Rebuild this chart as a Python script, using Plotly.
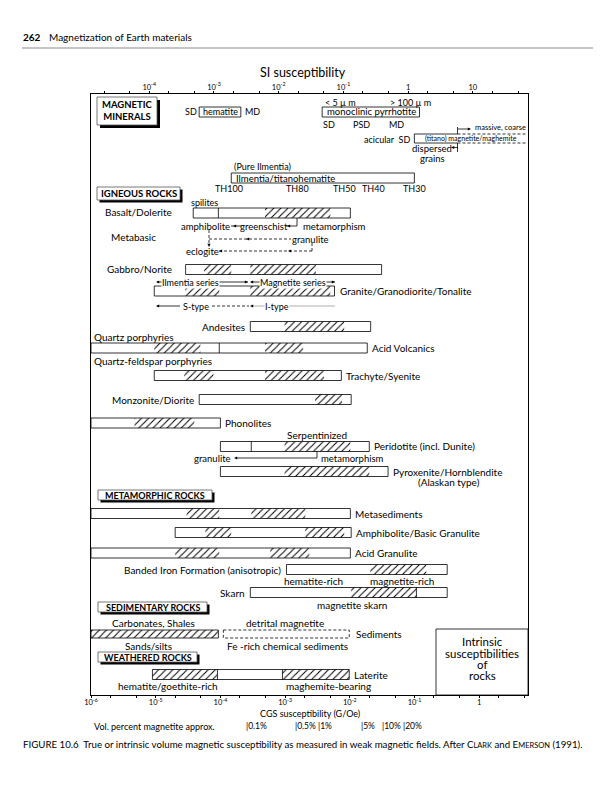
import numpy as np
import plotly.graph_objects as go

# ---------------- data (susceptibility values) ----------------
LOG4PI = float(np.log10(4 * np.pi))          # SI = 4*pi * CGS

si_tick_vals = [1e-4, 1e-3, 1e-2, 1e-1, 1, 10]
si_tick_text = ["10<sup>-4</sup>", "10<sup>-3</sup>", "10<sup>-2</sup>", "10<sup>-1</sup>", "1", "10"]
cgs_tick_vals = [1e-6, 1e-5, 1e-4, 1e-3, 1e-2, 1e-1, 1]
cgs_tick_text = ["10<sup>-6</sup>", "10<sup>-5</sup>", "10<sup>-4</sup>", "10<sup>-3</sup>",
                 "10<sup>-2</sup>", "10<sup>-1</sup>", "1"]
cgs_log_range = [-6.0, 0.754]

# Magnetic minerals (SI units)
hematite_si = [5.9e-4, 2.6e-3]
pyrrhotite_si = [4.7e-2, 1.5]
magnetite_solid_si = [1.25, 5.8]
magnetite_dashed_si = [5.8, 70.0]
ilmenite_si = [1.85e-3, 1.25]
th_labels = ["TH100", "TH80", "TH50", "TH40", "TH30"]
th_si = [1.73e-3, 1.95e-2, 0.103, 0.29, 1.25]

# Rocks (CGS units)
rock_names = ["Basalt/Dolerite", "Gabbro/Norite", "Granite/Granodiorite/Tonalite", "Andesites",
              "Acid Volcanics", "Trachyte/Syenite", "Monzonite/Diorite", "Phonolites",
              "Peridotite (incl. Dunite)", "Pyroxenite/Hornblendite", "Metasediments",
              "Amphibolite/Basic Granulite", "Acid Granulite", "Banded Iron Formation (anisotropic)",
              "Skarn", "Laterite"]
rock_low = [3.8e-5, 2.9e-5, 9.5e-6, 2.9e-4, 1e-6, 9.5e-6, 4.7e-5, 1e-6,
            1e-4, 1e-4, 1e-6, 2e-5, 1e-6, 1.05e-3, 2.9e-4, 8.9e-6]
rock_high = [1.02e-2, 3.1e-2, 5.8e-3, 2.1e-2, 1.86e-2, 7.4e-3, 1.05e-2, 1e-4,
             2e-2, 3.9e-2, 1.02e-2, 1.05e-2, 1.02e-2, 0.32, 0.32, 9.8e-3]
rock_hatch = [
    [(4.9e-4, 5.0e-3)],
    [(5.6e-5, 1.47e-4), (2.9e-4, 3.0e-3)],
    [(2.86e-5, 9.6e-5), (2.9e-4, 5.0e-3)],
    [(9.8e-4, 8.2e-3)],
    [(9.5e-6, 4.9e-5), (4.9e-4, 1.9e-3)],
    [(2.77e-5, 7.8e-5), (4.9e-4, 4.0e-3)],
    [(2.9e-3, 7.6e-3)],
    [(4.7e-6, 3.95e-5)],
    [(9.8e-4, 1.02e-2)],
    [(9.8e-4, 2.0e-2)],
    [(3.0e-5, 9.6e-5), (3.0e-4, 2.05e-3)],
    [(5.85e-5, 1.47e-4), (2.05e-3, 8.2e-3)],
    [(2.0e-5, 9.6e-5), (5.9e-4, 2.37e-3)],
    [(2.07e-2, 0.152)],
    [(1.05e-2, 0.107)],
    [(8.9e-6, 9.0e-5), (9.1e-4, 9.8e-3)],
]
rock_dividers = [[9.3e-5], [], [], [], [9.6e-5], [], [], [], [3.0e-4], [], [], [], [], [], [0.107],
                 [9.0e-5, 9.1e-4]]

sediment_hatch = [1e-6, 9.3e-5]
sediment_dashed = [1.11e-4, 9.8e-3]

percent_labels = ["0.1%", "0.5%", "1%", "5%", "10%", "20%"]
percent_cgs = [2.5e-4, 1.4e-3, 3.2e-3, 1.5e-2, 3.2e-2, 6.7e-2]

# ---------------- layout positions (page pixels) ----------------
W, H = 615, 800
OFF = 8                     # page offset of the figure inside the html body
PL, PR, PT, PB = 91, 528, 94, 695
rock_row_y = [213, 269.5, 291, 326.5, 348, 375.5, 399.5, 423, 446.5, 471.5,
              513.5, 532.5, 553, 569.5, 592.5, 674.5]
rock_label_side = ["none", "none", "right", "left", "right", "right", "left", "right",
                   "right", "right", "right", "right", "right", "left", "left", "right"]
BAR_H = 10
FONT = "Lato"
LW = 0.8
HATCH = dict(shape="/", fgcolor="black", bgcolor="white", size=5, solidity=0.2, fillmode="replace")


def xp(px):
    return (px - PL) / (PR - PL)


def yp(py):
    return (PB - py) / (PB - PT)


fig = go.Figure()


def rect_xy(x0, x1, y0, y1):
    return [x0, x1, x1, x0, x0], [y0, y0, y1, y1, y0]


def add_hatch(x0, x1, yc, h, xaxis="x"):
    xs, ys = rect_xy(x0, x1, yc - h / 2, yc + h / 2)
    fig.add_trace(go.Scatter(x=xs, y=ys, mode="lines", fill="toself", fillcolor="white",
                             fillpattern=HATCH, line=dict(width=0, color="rgba(0,0,0,0)"),
                             xaxis=xaxis, yaxis="y", hoverinfo="skip", showlegend=False))


def add_outline(x0, x1, yc, h, dash="solid", xaxis="x"):
    xs, ys = rect_xy(x0, x1, yc - h / 2, yc + h / 2)
    fig.add_trace(go.Scatter(x=xs, y=ys, mode="lines", line=dict(color="black", width=LW, dash=dash),
                             xaxis=xaxis, yaxis="y", hoverinfo="skip", showlegend=False))


def add_vline_data(x, y0, y1, xaxis="x", dash="solid"):
    fig.add_trace(go.Scatter(x=[x, x], y=[y0, y1], mode="lines", line=dict(color="black", width=LW, dash=dash),
                             xaxis=xaxis, yaxis="y", hoverinfo="skip", showlegend=False))


def add_hline_data(x0, x1, y, xaxis="x", dash="solid"):
    fig.add_trace(go.Scatter(x=[x0, x1], y=[y, y], mode="lines", line=dict(color="black", width=LW, dash=dash),
                             xaxis=xaxis, yaxis="y", hoverinfo="skip", showlegend=False))


annotations = []
shapes = []


def txt(text, x, y, size=10, xanchor="center", bold=False, bg=None, color="black", family=FONT):
    if bold:
        text = "<b>" + text + "</b>"
    a = dict(text=text, x=xp(x), y=yp(y), xref="paper", yref="paper", showarrow=False,
             xanchor=xanchor, yanchor="middle", font=dict(size=size, family=family, color=color),
             borderpad=0)
    if bg:
        a["bgcolor"] = bg
    annotations.append(a)


def txt_data(text, xval, y, size=10, xanchor="center", xref="x", xshift=0):
    annotations.append(dict(text=text, x=float(np.log10(xval)), y=yp(y), xref=xref, yref="paper",
                            showarrow=False, xanchor=xanchor, yanchor="middle", xshift=xshift,
                            font=dict(size=size, family=FONT, color="black"), borderpad=0))


def seg(x0, y0, x1, y1, dash="solid", color="black", w=LW):
    shapes.append(dict(type="line", xref="paper", yref="paper", x0=xp(x0), y0=yp(y0), x1=xp(x1), y1=yp(y1),
                       line=dict(color=color, width=w, dash=dash)))


def tri(x, y, d, s=2.2, color="black"):
    if d == "left":
        pts = [(x, y), (x + 2 * s, y - s), (x + 2 * s, y + s)]
    elif d == "right":
        pts = [(x, y), (x - 2 * s, y - s), (x - 2 * s, y + s)]
    else:  # down
        pts = [(x, y), (x - s, y - 2 * s), (x + s, y - 2 * s)]
    path = "M " + " L ".join(f"{xp(a):.5f},{yp(b):.5f}" for a, b in pts) + " Z"
    shapes.append(dict(type="path", xref="paper", yref="paper", path=path, fillcolor=color,
                       line=dict(width=0)))


def header_box(text, x0, x1, y0, y1, size=9.5, sh=2.5):
    shapes.append(dict(type="rect", xref="paper", yref="paper", x0=xp(x0 + sh), x1=xp(x1 + sh),
                       y0=yp(y1 + sh), y1=yp(y0 + sh), fillcolor="black", line=dict(width=0)))
    shapes.append(dict(type="rect", xref="paper", yref="paper", x0=xp(x0), x1=xp(x1),
                       y0=yp(y1), y1=yp(y0), fillcolor="white", line=dict(color="#555", width=0.8)))
    txt(text, (x0 + x1) / 2, (y0 + y1) / 2, size=size, bold=True)


# ---------------- magnetic minerals (SI axis) ----------------
add_outline(hematite_si[0], hematite_si[1], 112, 10, xaxis="x2")
add_outline(pyrrhotite_si[0], pyrrhotite_si[1], 112, 10, xaxis="x2")
add_outline(ilmenite_si[0], ilmenite_si[1], 178, 10, xaxis="x2")
# magnetite: solid then dashed
add_vline_data(magnetite_solid_si[0], 134, 143, xaxis="x2")
for yy in (134, 143):
    add_hline_data(magnetite_solid_si[0], magnetite_solid_si[1], yy, xaxis="x2")
    add_hline_data(magnetite_dashed_si[0], magnetite_dashed_si[1], yy, xaxis="x2", dash="3px,2px")
add_vline_data(magnetite_solid_si[1], 127, 134, xaxis="x2")
add_vline_data(magnetite_solid_si[1], 143, 152, xaxis="x2")
for lab, v in zip(th_labels, th_si):
    txt_data(lab, v, 188, size=9, xref="x2")

# ---------------- rocks (CGS axis) ----------------
for i, name in enumerate(rock_names):
    yc = rock_row_y[i]
    for (h0, h1) in rock_hatch[i]:
        add_hatch(h0, h1, yc, BAR_H)
    add_outline(rock_low[i], rock_high[i], yc, BAR_H)
    for d in rock_dividers[i]:
        add_vline_data(d, yc - BAR_H / 2, yc + BAR_H / 2)
    if rock_label_side[i] == "right":
        txt_data(name, rock_high[i], yc, size=10, xanchor="left", xshift=4)
    elif rock_label_side[i] == "left":
        txt_data(name, rock_low[i], yc, size=10, xanchor="right", xshift=-4)

# sediments
add_hatch(sediment_hatch[0], sediment_hatch[1], 634, 8)
add_outline(sediment_hatch[0], sediment_hatch[1], 634, 8)
add_outline(sediment_dashed[0], sediment_dashed[1], 634, 8, dash="3px,2px")
txt_data("Sediments", sediment_dashed[1], 634, size=10, xanchor="left", xshift=6)

# ---------------- texts: header, title ----------------
txt("262", 22, 37, size=10, xanchor="left", bold=True)
txt("Magnetization of Earth materials", 48, 37, size=10, xanchor="left")
seg(22, 48, 593, 48, color="#8a8a8a", w=1)
txt("SI susceptibility", 303, 72, size=12.5)

# magnetic minerals texts
header_box("MAGNETIC<br>MINERALS", 97, 157, 97, 125, size=9.5, sh=3)
txt("SD", 191, 112, size=9)
txt("hematite", 220.5, 112, size=9)
txt("MD", 252, 112, size=9)
txt("&lt; 5 µ m", 340, 102, size=9)
txt("&gt; 100 µ m", 410, 102, size=9)
txt("monoclinic pyrrhotite", 371, 112, size=9.5)
txt("SD", 329, 125, size=9)
txt("PSD", 361, 125, size=9)
txt("MD", 396, 125, size=9)
txt("acicular  SD", 411, 139, size=9, xanchor="right")
txt("(titano) magnetite/maghemite", 471, 138.5, size=7)
seg(458, 129, 470, 129)
tri(471, 129, "right", s=1.6)
txt("massive, coarse", 474, 128, size=7.5, xanchor="left")
txt("dispersed", 432, 148, size=9.5)
seg(452, 147.5, 458, 147.5)
tri(451, 147.5, "left", s=1.6)
txt("grains", 432, 158, size=9.5)
txt("(Pure Ilmentia)", 233, 166, size=9, xanchor="left")
txt("Ilmentia/titanohematite", 235, 178, size=9.5, xanchor="left")

# igneous
header_box("IGNEOUS ROCKS", 97, 180, 187, 200, size=9.5)
txt("spilites", 204, 203, size=9)
txt("Basalt/Dolerite", 173, 212, size=10, xanchor="right")
txt("amphibolite", 205, 226, size=9.5)
seg(231, 226, 242, 226)
tri(233, 226, "left", s=1.6)
txt("greenschist", 264, 226, size=9.5)
seg(286, 226, 297, 226)
tri(287, 226, "left", s=1.6)
seg(297, 218, 297, 226)
txt("metamorphism", 302, 226, size=9.5, xanchor="left")
txt("Metabasic", 110, 237, size=10, xanchor="left")
seg(209, 230, 209, 245, dash="3px,2px")
tri(209, 247, "down", s=1.6)
seg(209, 239, 291, 239, dash="3px,2px")
tri(246, 239, "left", s=1.6)
txt("granulite", 310, 239, size=9.5)
seg(312, 243, 312, 251, dash="3px,2px")
seg(219, 251, 312, 251, dash="3px,2px")
tri(288, 251, "left", s=1.6)
tri(219, 251, "left", s=1.6)
txt("eclogite", 202, 251, size=9.5)
txt("Gabbro/Norite", 173, 269, size=10, xanchor="right")
# series row
seg(157, 282, 248, 282)
tri(156, 282, "left", s=1.6)
tri(248, 282, "right", s=1.6)
txt("Ilmentia series", 190, 282, size=9, bg="white")
seg(251, 282, 335, 282)
tri(250, 282, "left", s=1.6)
tri(335, 282, "right", s=1.6)
txt("Magnetite series", 293, 282, size=9, bg="white")
# S/I type row
seg(157, 306, 180, 306)
tri(156, 306, "left", s=1.6)
txt("S-type", 196, 306, size=9)
seg(212, 306, 249, 306, dash="3px,2px")
seg(251, 306, 335, 306, color="#9a9a9a")
tri(250, 306, "left", s=1.6)
txt("I-type", 277, 306, size=9, bg="white")
txt("Quartz porphyries", 93, 337, size=10, xanchor="left")
txt("Quartz-feldspar porphyries", 93, 361, size=10, xanchor="left")
txt("Serpentinized", 317, 435, size=10)
txt("granulite", 212, 458, size=9.5)
seg(236, 458, 317, 458)
tri(234, 458, "left", s=1.6)
seg(317, 451, 317, 458)
txt("metamorphism", 320, 458, size=9.5, xanchor="left")
txt("(Alaskan type)", 449, 482, size=10)

# metamorphic
header_box("METAMORPHIC ROCKS", 98, 212, 490, 500, size=9)
txt("hematite-rich", 313, 581, size=10)
txt("magnetite-rich", 402, 581, size=10)
txt("magnetite skarn", 352, 605, size=10)

# sedimentary & weathered
header_box("SEDIMENTARY ROCKS", 98, 207, 602, 612, size=9)
txt("Carbonates, Shales", 153, 623, size=10)
txt("detrital magnetite", 285, 623, size=10)
txt("Sands/silts", 148, 646, size=10)
txt("Fe -rich chemical sediments", 287, 646, size=10)
header_box("WEATHERED ROCKS", 98, 197, 652, 662, size=9)
txt("hematite/goethite-rich", 168, 686, size=10)
txt("maghemite-bearing", 328, 686, size=10)

# intrinsic box
shapes.append(dict(type="rect", xref="paper", yref="paper", x0=xp(436), x1=xp(528), y0=yp(695), y1=yp(629),
                   fillcolor="white", line=dict(color="black", width=LW)))
for t, yy in zip(["Intrinsic", "susceptibilities", "of", "rocks"], [641.5, 653.5, 664, 675.5]):
    txt(t, 482, yy, size=11.5)

# bottom texts
txt("CGS susceptibility (G/Oe)", 310, 713, size=9)
txt("Vol. percent magnetite approx.", 93, 726, size=9, xanchor="left")
for lab, v in zip(percent_labels, percent_cgs):
    txt_data("|" + lab, v, 726, size=8.5, xanchor="left", xshift=-1)

cap = ("FIGURE 10.6  True or intrinsic volume magnetic susceptibility as measured in weak magnetic fields. "
       "After C<span style='font-size:7.5px'>LARK</span> and E<span style='font-size:7.5px'>MERSON</span> (1991).")
txt(cap, 22, 744, size=9.7, xanchor="left")

axis_common = dict(type="log", ticks="outside", ticklen=2.5, tickwidth=0.8, tickcolor="black",
                   showgrid=False, zeroline=False, tickfont=dict(size=7.5, family=FONT, color="black"),
                   minor=dict(ticks="outside", ticklen=2, tickwidth=0.5, tickcolor="black", showgrid=False))

fig.update_layout(
    width=W, height=H,
    margin=dict(l=PL - OFF, r=W - (PR - OFF), t=PT - OFF, b=H - (PB - OFF), pad=0),
    paper_bgcolor="white", plot_bgcolor="white", showlegend=False,
    font=dict(family=FONT, color="black"),
    xaxis=dict(range=cgs_log_range, tickvals=cgs_tick_vals, ticktext=cgs_tick_text,
               showline=True, linecolor="black", linewidth=LW, mirror=True,
               ticklabelstandoff=-2, **axis_common),
    xaxis2=dict(range=[cgs_log_range[0] + LOG4PI, cgs_log_range[1] + LOG4PI], overlaying="x", side="top",
                anchor="y", tickvals=si_tick_vals, ticktext=si_tick_text, showline=False,
                ticklabelstandoff=-2, **axis_common),
    yaxis=dict(range=[PB, PT], showline=True, mirror=True, linecolor="black", linewidth=LW,
               showticklabels=False, ticks="", showgrid=False, zeroline=False),
    annotations=annotations,
    shapes=shapes,
)

fig.write_html("out.html")
